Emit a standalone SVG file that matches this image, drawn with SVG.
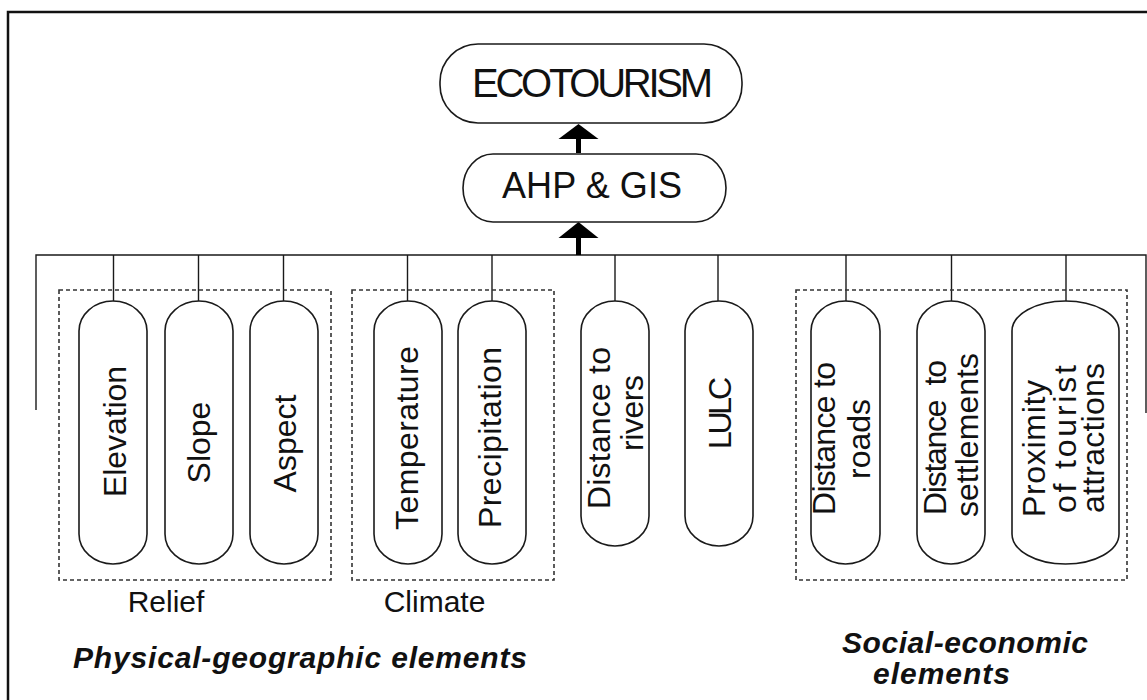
<svg xmlns="http://www.w3.org/2000/svg" width="1147" height="700" viewBox="0 0 1147 700">
<defs>
<style>
.frame{fill:none;stroke:#111;stroke-width:2.5}
.ln{fill:none;stroke:#1a1a1a;stroke-width:1.4}
.pill{fill:#fff;stroke:#1a1a1a;stroke-width:1.6}
.dash{fill:none;stroke:#333;stroke-width:1.6;stroke-dasharray:4 3}
.t{font-family:"Liberation Sans",Arial,sans-serif;fill:#111}
.v{font-size:32px;text-anchor:middle}
.grp{font-size:30px;text-anchor:middle}
.big{font-size:30px;font-weight:bold;font-style:italic}
.arrow{fill:#000}
</style>
</defs>
<rect width="1147" height="700" fill="#fff"/>
<path class="frame" d="M8,700 V12 H1147"/>

<g id="connectors">
<path class="ln" d="M36,410 V255 H1146 V413"/>
<path class="ln" d="M113.5,255 V301 M198.5,255 V301 M283.5,255 V301 M407.5,255 V301 M492,255 V301 M615,255 V301 M718,255 V301 M846,255 V301 M951.5,255 V301 M1066,255 V301"/>
<g id="arrow1"><rect class="arrow" x="576" y="236" width="5" height="19"/><polygon class="arrow" points="578.5,222 558.5,238 598.5,238"/></g>
<g id="arrow2"><rect class="arrow" x="576" y="137" width="5" height="16"/><polygon class="arrow" points="578.5,124 558.5,139 598.5,139"/></g>
</g>

<g id="ecotourism">
<rect class="pill" x="440" y="44" width="302" height="79" rx="38" ry="38"/>
<text class="t" x="592.5" y="97" font-size="40" text-anchor="middle" textLength="241">ECOTOURISM</text>
</g>
<g id="ahp-gis">
<rect class="pill" x="463" y="154" width="263" height="68" rx="30" ry="34"/>
<text class="t" x="592" y="198" font-size="36" text-anchor="middle" textLength="180">AHP &amp; GIS</text>
</g>

<g id="relief-group">
<rect class="dash" x="59" y="290" width="272" height="290"/>
<text class="t grp" x="166" y="612">Relief</text>
</g>
<g id="climate-group">
<rect class="dash" x="352" y="290" width="202" height="290"/>
<text class="t grp" x="434.5" y="612">Climate</text>
</g>
<g id="social-group">
<rect class="dash" x="796" y="290" width="331" height="290"/>
</g>

<g id="elevation">
<path class="pill" d="M79,331 A34,30 0 0 1 147,331 V534 A34,30 0 0 1 79,534 Z"/>
<text class="t v" transform="translate(126,431.5) rotate(-90)" textLength="131">Elevation</text>
</g>
<g id="slope">
<path class="pill" d="M165,331 A34,30 0 0 1 233,331 V534 A34,30 0 0 1 165,534 Z"/>
<text class="t v" transform="translate(210,442.5) rotate(-90)">Slope</text>
</g>
<g id="aspect">
<path class="pill" d="M250,331 A34,30 0 0 1 318,331 V534 A34,30 0 0 1 250,534 Z"/>
<text class="t v" transform="translate(296,443.5) rotate(-90)">Aspect</text>
</g>
<g id="temperature">
<path class="pill" d="M374,331 A34,30 0 0 1 442,331 V534 A34,30 0 0 1 374,534 Z"/>
<text class="t v" transform="translate(418,438) rotate(-90)" textLength="184">Temperature</text>
</g>
<g id="precipitation">
<path class="pill" d="M458,331 A34,30 0 0 1 526,331 V534 A34,30 0 0 1 458,534 Z"/>
<text class="t v" transform="translate(501,437.5) rotate(-90)" textLength="181">Precipitation</text>
</g>
<g id="distance-rivers">
<path class="pill" d="M581,331 A34,30 0 0 1 649,331 V516 A34,30 0 0 1 581,516 Z"/>
<text class="t v" transform="translate(610,428) rotate(-90)" textLength="162">Distance to</text>
<text class="t v" transform="translate(643,413) rotate(-90)" textLength="76">rivers</text>
</g>
<g id="lulc">
<path class="pill" d="M685,331 A34,30 0 0 1 753,331 V516 A34,30 0 0 1 685,516 Z"/>
<text class="t v" transform="translate(731,413) rotate(-90)" textLength="72">LULC</text>
</g>
<g id="distance-roads">
<path class="pill" d="M811,331 A34.5,30 0 0 1 880,331 V534 A34.5,30 0 0 1 811,534 Z"/>
<text class="t v" transform="translate(835,438.5) rotate(-90)" textLength="153">Distance to</text>
<text class="t v" transform="translate(870,439) rotate(-90)">roads</text>
</g>
<g id="distance-settlements">
<path class="pill" d="M917,331 A34,30 0 0 1 985,331 V534 A34,30 0 0 1 917,534 Z"/>
<text class="t v" transform="translate(946,437.5) rotate(-90)" textLength="155" xml:space="preserve">Distance  to</text>
<text class="t v" transform="translate(978,435) rotate(-90)" textLength="164">settlements</text>
</g>
<g id="proximity">
<path class="pill" d="M1012,331 A53.5,30 0 0 1 1119,331 V534 A53.5,30 0 0 1 1012,534 Z"/>
<text class="t v" transform="translate(1045,448.5) rotate(-90)" textLength="137">Proximity</text>
<text class="t v" transform="translate(1076,439) rotate(-90)" textLength="148">of tourist</text>
<text class="t v" transform="translate(1104,438) rotate(-90)" textLength="150">attractions</text>
</g>

<g id="labels">
<text class="t big" x="73" y="668" textLength="454">Physical-geographic elements</text>
<text class="t big" x="842" y="653" textLength="246">Social-economic</text>
<text class="t big" x="873" y="684" textLength="137">elements</text>
</g>
</svg>
